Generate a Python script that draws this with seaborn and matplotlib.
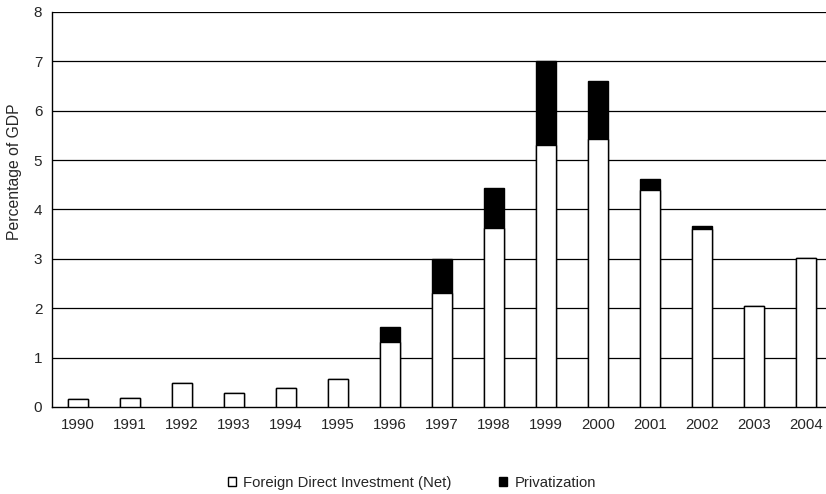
import matplotlib
matplotlib.use("Agg")
import matplotlib.pyplot as plt
from matplotlib.patches import Patch
import seaborn as sns
import pandas as pd

years = ["1990", "1991", "1992", "1993", "1994", "1995", "1996", "1997",
         "1998", "1999", "2000", "2001", "2002", "2003", "2004"]
fdi = [0.16, 0.18, 0.49, 0.28, 0.39, 0.57, 1.31, 2.30, 3.62, 5.30, 5.43, 4.39, 3.60, 2.04, 3.01]
privatization = [0.0, 0.0, 0.0, 0.0, 0.0, 0.0, 0.31, 0.70, 0.81, 1.70, 1.18, 0.23, 0.07, 0.0, 0.0]
y_ticks = [0, 1, 2, 3, 4, 5, 6, 7, 8]

df = pd.DataFrame({"year": years, "fdi": fdi, "priv": privatization})
df["total"] = df["fdi"] + df["priv"]

sns.set_style("white")
plt.rcParams["font.family"] = ["Liberation Sans", "DejaVu Sans"]

fig = plt.figure(figsize=(8.26, 4.94), dpi=100)
ax = fig.add_axes([52 / 826, 1 - 407 / 494, 780 / 826, 395 / 494])

for y in y_ticks[1:]:
    ax.axhline(y, color="black", linewidth=0.9, zorder=0)

sns.barplot(data=df, x="year", y="total", color="black", width=0.4,
            edgecolor="black", linewidth=1.0, saturation=1, ax=ax, zorder=2)
sns.barplot(data=df, x="year", y="fdi", color="white", width=0.4,
            edgecolor="black", linewidth=1.0, saturation=1, ax=ax, zorder=3)

ax.set_xlim(-0.5, len(years) - 0.5)
ax.set_ylim(0, 8)
ax.set_yticks(y_ticks)
ax.set_yticklabels([str(t) for t in y_ticks], fontsize=11)
ax.set_xticks(range(len(years)))
ax.set_xticklabels(years, fontsize=10.8)
ax.set_xticks([i + 0.5 for i in range(-1, len(years))], minor=True)
ax.tick_params(axis="x", which="major", length=0, pad=8)
ax.tick_params(axis="x", which="minor", length=4, width=1, direction="out", color="black")
ax.tick_params(axis="y", which="major", length=4, width=1, direction="out", color="black", pad=3)
ax.set_xlabel("")
ax.set_ylabel("Percentage of GDP", fontsize=11.3)
ax.yaxis.set_label_coords(-0.039, 0.595)

for s in ["top", "right"]:
    ax.spines[s].set_visible(False)
for s in ["left", "bottom"]:
    ax.spines[s].set_color("black")
    ax.spines[s].set_linewidth(1.0)

handles = [Patch(facecolor="white", edgecolor="black", linewidth=1.0, label="Foreign Direct Investment (Net)"),
           Patch(facecolor="black", edgecolor="black", label="Privatization")]
fig.legend(handles=handles, loc="center", bbox_to_anchor=(412 / 826, 1 - 483 / 494),
           ncol=2, frameon=False, fontsize=10.7, handlelength=0.55, handleheight=0.55,
           handletextpad=0.5, columnspacing=3.2)

fig.savefig("out.png", dpi=100)
